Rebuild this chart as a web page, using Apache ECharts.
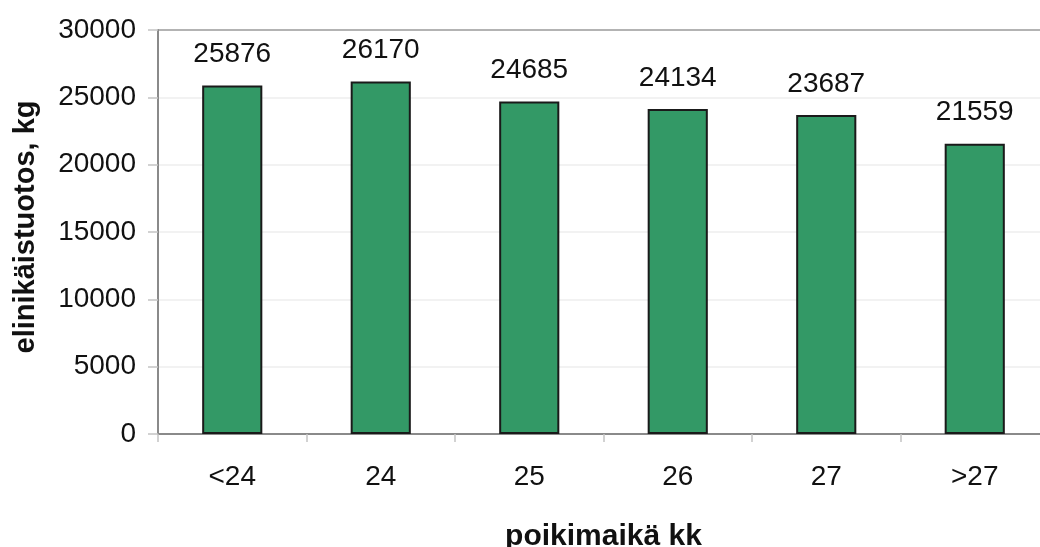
<!DOCTYPE html>
<html>
<head>
<meta charset="utf-8">
<script src="https://cdn.jsdelivr.net/npm/echarts@6/dist/echarts.min.js"></script>
<style>
html,body{margin:0;padding:0;background:#fff;}
#c{width:1040px;height:547px;}
</style>
</head>
<body>
<div id="c"></div>
<script>
const categories = ['<24', '24', '25', '26', '27', '>27'];
const values = [25876, 26170, 24685, 24134, 23687, 21559];
const yTicks = [0, 5000, 10000, 15000, 20000, 25000, 30000];

const chart = echarts.init(document.getElementById('c'), null, {renderer: 'canvas'});
const font = 'Liberation Sans, Arial, sans-serif';
chart.setOption({
  animation: false,
  backgroundColor: '#fff',
  grid: {left: 158, top: 30, width: 891, height: 404, containLabel: false, outerBoundsMode: 'none'},
  xAxis: {
    type: 'category',
    data: categories,
    boundaryGap: true,
    name: 'poikimaikä kk',
    nameLocation: 'middle',
    nameGap: 88,
    nameTextStyle: {fontFamily: font, fontSize: 30, fontWeight: 'bold', color: '#111'},
    axisLine: {show: true, lineStyle: {color: '#8a8a8a', width: 2}},
    axisTick: {show: true, alignWithLabel: false, interval: 0, length: 8, lineStyle: {color: '#c4c4c4', width: 1.5}},
    axisLabel: {fontFamily: font, fontSize: 28, color: '#111', margin: 29, interval: 0}
  },
  yAxis: {
    type: 'value',
    min: yTicks[0],
    max: yTicks[yTicks.length - 1],
    interval: 5000,
    name: 'elinikäistuotos, kg',
    nameLocation: 'middle',
    nameGap: 118,
    nameRotate: 90,
    nameTextStyle: {fontFamily: font, fontSize: 29, fontWeight: 'bold', color: '#111', padding: [0, 0, 0, 10]},
    axisLine: {show: true, lineStyle: {color: '#8a8a8a', width: 2}},
    axisTick: {show: true, inside: false, length: 10, lineStyle: {color: '#c4c4c4', width: 1.5}},
    axisLabel: {fontFamily: font, fontSize: 28, color: '#111', margin: 22, formatter: v => String(v)},
    splitLine: {show: true, lineStyle: {color: ['#f0f0f0', '#eeeeee', '#eeeeee', '#eeeeee', '#eeeeee', '#eeeeee', '#9a9a9a'], width: 1.5}}
  },
  series: [{
    type: 'bar',
    data: values,
    barWidth: '40.5%',
    itemStyle: {color: '#339966', borderColor: '#1a1a1a', borderWidth: 2},
    label: {show: true, position: 'top', distance: 17, fontFamily: font, fontSize: 28, color: '#111'}
  }]
});
</script>
</body>
</html>
